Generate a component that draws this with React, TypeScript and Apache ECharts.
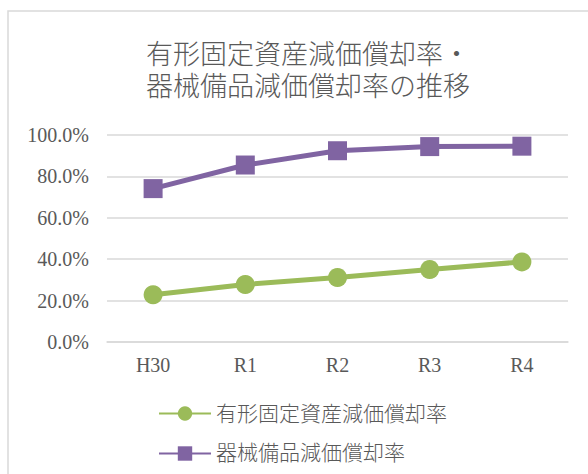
import React, { useEffect, useRef } from "react";
import * as echarts from "echarts";

const categories = ["H30", "R1", "R2", "R3", "R4"];
const tangibleRate = [22.8, 27.8, 31.2, 35.0, 38.7];
const equipmentRate = [74.1, 85.5, 92.4, 94.4, 94.6];
const seriesNames = ["有形固定資産減価償却率", "器械備品減価償却率"];
const titleText = "有形固定資産減価償却率・\n器械備品減価償却率の推移";

const FONT = "'Liberation Serif', 'Noto Sans CJK JP', serif";
const TEXT = "#595959";

export default function App() {
  const ref = useRef<HTMLDivElement>(null);
  useEffect(() => {
    const chart = echarts.init(ref.current!, null, { renderer: "svg" });
    chart.setOption({
      animation: false,
      backgroundColor: "#ffffff",
      graphic: [
        {
          type: "rect",
          shape: { x: 8, y: 11, width: 620, height: 520 },
          style: { fill: "none", stroke: "#d9d9d9", lineWidth: 1.5 },
          silent: true,
        },
      ],
      title: {
        text: titleText,
        left: 303,
        top: 34,
        textAlign: "center",
        textStyle: {
          fontFamily: FONT,
          fontSize: 27,
          fontWeight: 300,
          color: TEXT,
          lineHeight: 32,
        },
      },
      grid: { left: 107, right: 20, top: 135, bottom: 132 },
      xAxis: {
        type: "category",
        data: categories,
        boundaryGap: true,
        axisLine: { show: true, lineStyle: { color: "#d9d9d9", width: 1.5 } },
        axisTick: { show: false },
        axisLabel: { fontFamily: FONT, fontSize: 20, color: TEXT, margin: 13 },
      },
      yAxis: {
        type: "value",
        min: 0,
        max: 100,
        interval: 20,
        axisLine: { show: false },
        axisTick: { show: false },
        splitLine: { lineStyle: { color: "#d9d9d9", width: 1.5 } },
        axisLabel: {
          fontFamily: FONT,
          fontSize: 20,
          color: TEXT,
          margin: 18,
          formatter: (v: number) => v.toFixed(1) + "%",
        },
      },
      legend: {
        orient: "vertical",
        left: 153,
        top: 398,
        itemWidth: 52,
        itemHeight: 18,
        itemGap: 19,
        textStyle: { fontFamily: FONT, fontSize: 21, fontWeight: 300, color: TEXT },
        data: seriesNames,
      },
      series: [
        {
          name: seriesNames[0],
          type: "line",
          data: tangibleRate,
          symbol: "circle",
          symbolSize: 19,
          lineStyle: { color: "#9BBB59", width: 5 },
          itemStyle: { color: "#9BBB59" },
        },
        {
          name: seriesNames[1],
          type: "line",
          data: equipmentRate,
          symbol: "rect",
          symbolSize: 19,
          lineStyle: { color: "#8064A2", width: 5 },
          itemStyle: { color: "#8064A2" },
        },
      ],
    });
    return () => chart.dispose();
  }, []);
  return (
    <div
      ref={ref}
      style={{ position: "fixed", left: 0, top: 0, width: 588, height: 474 }}
    />
  );
}
